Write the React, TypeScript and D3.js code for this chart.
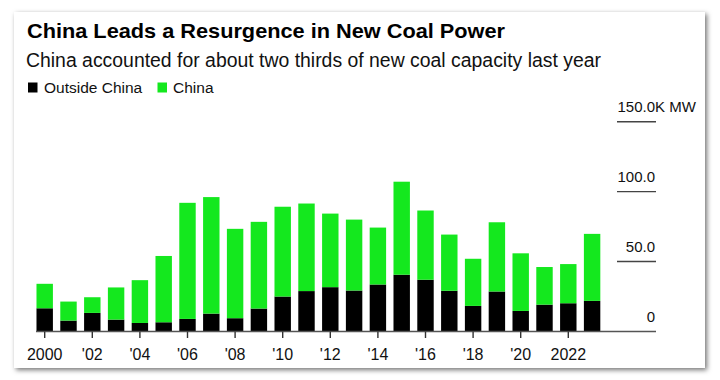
import React from "react";
import * as d3 from "d3";

const years: number[] = [
  2000, 2001, 2002, 2003, 2004, 2005, 2006, 2007, 2008, 2009, 2010, 2011,
  2012, 2013, 2014, 2015, 2016, 2017, 2018, 2019, 2020, 2021, 2022, 2023,
];
const outsideChina: number[] = [
  16.6, 7.8, 13.3, 8.5, 6.1, 6.6, 9.0, 12.8, 9.5, 16.4, 25.0, 28.9,
  31.7, 29.3, 33.6, 40.6, 37.0, 29.1, 18.3, 28.6, 14.7, 19.2, 20.2, 21.9,
];
const china: number[] = [
  17.5, 13.6, 11.2, 23.0, 30.6, 47.4, 83.0, 83.3, 63.9, 62.0, 64.2, 62.6,
  52.6, 50.7, 40.7, 66.5, 49.5, 40.2, 33.7, 49.5, 41.2, 26.9, 28.0, 47.9,
];
const yTicks: number[] = [0, 50, 100, 150];
const yTickLabels: string[] = ["0", "50.0", "100.0", "150.0"];
const xTickYears: number[] = [2000, 2002, 2004, 2006, 2008, 2010, 2012, 2014, 2016, 2018, 2020, 2022];
const xTickLabels: string[] = ["2000", "'02", "'04", "'06", "'08", "'10", "'12", "'14", "'16", "'18", "'20", "2022"];
const seriesNames: string[] = ["Outside China", "China"];
const seriesColors: string[] = ["#000000", "#14e81e"];

const W = 720;
const H = 380;
const FONT = "'Liberation Sans', Arial, Helvetica, sans-serif";

export default function App() {
  const x = d3
    .scaleBand<number>()
    .domain(years)
    .range([32.8, 604])
    .paddingInner(0.31)
    .paddingOuter(0.155);
  const y = d3.scaleLinear().domain([0, 150]).range([331.5, 121.7]);

  const table = years.map((yr, i) => ({ year: yr, outside: outsideChina[i], china: china[i] }));
  const stack = d3.stack<any>().keys(["outside", "china"]);
  const layers = stack(table);

  const gridX0 = 617;
  const gridX1 = 656;
  const axisX0 = 36;

  return (
    <svg
      width={W}
      height={H}
      style={{ position: "absolute", left: 0, top: 0, background: "#fff" }}
      fontFamily={FONT}
    >
      <defs>
        <filter id="shadow" x="-5%" y="-5%" width="110%" height="110%">
          <feDropShadow dx="2" dy="2" stdDeviation="2.6" floodColor="#000" floodOpacity="0.55" />
        </filter>
      </defs>
      <rect x={0} y={0} width={W} height={H} fill="#fff" />
      <rect x={14} y={12} width={691} height={356} fill="#fff" filter="url(#shadow)" />

      <text x={27} y={38.3} fontSize={21} fontWeight="bold" fill="#000" textLength={478} lengthAdjust="spacingAndGlyphs">
        China Leads a Resurgence in New Coal Power
      </text>
      <text x={26} y={67.3} fontSize={19.5} fill="#111" textLength={575} lengthAdjust="spacingAndGlyphs">
        China accounted for about two thirds of new coal capacity last year
      </text>

      {/* legend */}
      <rect x={28} y={82.5} width={9.5} height={10} fill={seriesColors[0]} />
      <text x={44} y={92.7} fontSize={15.5} fill="#111">{seriesNames[0]}</text>
      <rect x={157.5} y={82.5} width={9.5} height={10} fill={seriesColors[1]} />
      <text x={173} y={92.7} fontSize={15.5} fill="#111">{seriesNames[1]}</text>

      {/* y grid + labels */}
      {yTicks.map((t, i) => (
        <g key={t}>
          {t !== 0 && (
            <line x1={gridX0} x2={gridX1} y1={y(t)} y2={y(t)} stroke="#444" strokeWidth={1.4} />
          )}
          <text x={gridX1 - 1} y={y(t) - 10} fontSize={15} textAnchor="end" fill="#111">
            {yTickLabels[i]}
          </text>
          {t === 150 && (
            <text x={gridX1 - 1} y={y(t) - 10} fontSize={15} textAnchor="start" fill="#111">
              K MW
            </text>
          )}
        </g>
      ))}

      {/* bars */}
      {layers.map((layer, li) => (
        <g key={li} fill={seriesColors[li]}>
          {layer.map((d: any, i: number) => (
            <rect
              key={i}
              x={x(years[i])}
              width={x.bandwidth()}
              y={y(d[1])}
              height={y(d[0]) - y(d[1])}
            />
          ))}
        </g>
      ))}

      {/* x axis */}
      <line x1={axisX0} x2={gridX1} y1={y(0)} y2={y(0)} stroke="#555" strokeWidth={1.6} />
      {xTickYears.map((yr, i) => {
        const cx = (x(yr) as number) + x.bandwidth() / 2;
        return (
          <g key={yr}>
            <line x1={cx} x2={cx} y1={y(0)} y2={y(0) + 6.5} stroke="#333" strokeWidth={1.4} />
            <text x={cx} y={359.5} fontSize={16} textAnchor="middle" fill="#111">
              {xTickLabels[i]}
            </text>
          </g>
        );
      })}
    </svg>
  );
}
